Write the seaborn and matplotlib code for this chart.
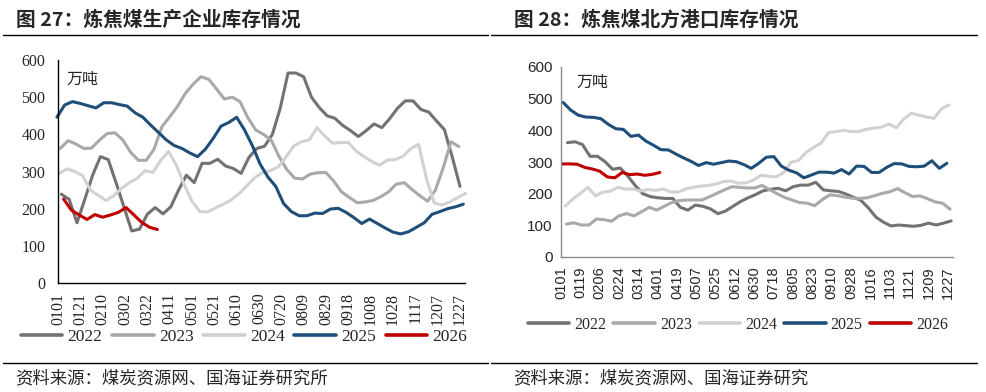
import numpy as np
import pandas as pd
import matplotlib
matplotlib.use("Agg")
import matplotlib.pyplot as plt
import seaborn as sns
from matplotlib.lines import Line2D

# ---------------- data ----------------
years = ["2022", "2023", "2024", "2025", "2026"]
colors = ["#767171", "#A9A9A9", "#D3D1D1", "#1F4E79", "#C00000"]

# Fig 27: coking coal producer inventory (weekly, 万吨)
left_start = ["2022-01-04", "2023-01-03", "2024-01-02", "2024-12-31", "2026-01-06"]
left_2022 = [239, 225, 162, 225, 290, 340, 332, 270, 205, 140, 145, 185, 203, 186, 205, 250,
             290, 270, 322, 322, 333, 315, 308, 295, 338, 362, 368, 400, 470, 565, 565, 555,
             500, 472, 450, 443, 424, 410, 394, 410, 428, 418, 442, 470, 490, 490, 467, 460,
             436, 413, 340, 260]
left_2023 = [362, 383, 374, 362, 363, 384, 402, 404, 385, 352, 330, 330, 360, 420, 447, 475,
             510, 535, 555, 548, 522, 495, 500, 488, 445, 412, 400, 384, 340, 305, 282, 280,
             293, 297, 297, 274, 245, 230, 216, 218, 222, 232, 245, 266, 270, 252, 235, 220,
             250, 310, 380, 367]
left_2024 = [295, 307, 300, 289, 250, 236, 222, 235, 255, 270, 282, 302, 298, 330, 354, 317,
             265, 220, 192, 191, 202, 212, 223, 240, 261, 283, 297, 302, 312, 338, 368, 380,
             385, 418, 395, 376, 378, 378, 355, 340, 327, 317, 331, 332, 341, 362, 373, 280,
             215, 210, 218, 230, 241]
left_2025 = [446, 479, 488, 483, 477, 471, 485, 485, 480, 476, 458, 446, 425, 405, 385, 370,
             362, 350, 340, 360, 389, 422, 432, 446, 412, 370, 320, 285, 260, 214, 192, 181,
             181, 188, 187, 199, 201, 190, 176, 160, 172, 160, 148, 137, 132, 138, 150, 162,
             185, 192, 200, 205, 212]
left_2026 = [226, 196, 183, 171, 184, 177, 183, 190, 203, 183, 163, 150, 144]
left_ticks = ["0101", "0121", "0210", "0302", "0322", "0411", "0501", "0521", "0610", "0630",
              "0720", "0809", "0829", "0918", "1008", "1028", "1117", "1207", "1227"]

# Fig 28: coking coal northern port inventory (weekly, 万吨)
right_start = ["2022-01-07", "2023-01-06", "2024-01-05", "2025-01-03", "2026-01-02"]
right_2022 = [361, 364, 355, 318, 318, 301, 277, 281, 256, 226, 200, 191, 187, 185, 185, 157,
              148, 164, 160, 152, 137, 145, 160, 175, 187, 197, 209, 214, 217, 209, 222, 227,
              227, 236, 212, 209, 207, 199, 189, 179, 155, 126, 110, 98, 101, 99, 97, 100,
              107, 101, 107, 114]
right_2023 = [104, 108, 101, 101, 120, 118, 113, 130, 137, 130, 143, 157, 148, 160, 172, 178,
              180, 180, 180, 190, 201, 212, 222, 220, 218, 218, 226, 213, 200, 188, 180, 172,
              170, 162, 181, 196, 194, 189, 186, 185, 187, 194, 201, 206, 216, 203, 191, 193,
              184, 174, 170, 151]
right_2024 = [161, 183, 201, 220, 193, 205, 208, 220, 214, 215, 208, 213, 210, 215, 205, 205,
              215, 220, 224, 226, 230, 238, 240, 233, 234, 243, 258, 255, 253, 266, 299, 305,
              330, 346, 360, 393, 396, 400, 396, 396, 403, 407, 410, 420, 408, 436, 454, 448,
              442, 438, 468, 480]
right_2025 = [488, 464, 448, 442, 441, 437, 419, 405, 403, 381, 385, 366, 353, 339, 338, 325,
              313, 302, 289, 298, 293, 298, 303, 301, 292, 280, 296, 315, 317, 287, 274, 266,
              250, 259, 268, 268, 265, 276, 262, 287, 286, 267, 267, 283, 295, 294, 286, 285,
              287, 304, 280, 296]
right_2026 = [294, 294, 293, 283, 278, 271, 253, 250, 267, 260, 262, 258, 261, 267]
right_ticks = ["0101", "0119", "0206", "0224", "0314", "0401", "0419", "0507", "0525", "0612",
               "0630", "0718", "0805", "0823", "0910", "0928", "1016", "1103", "1121", "1209",
               "1227"]


def build(starts, series):
    rows = []
    for yr, st, vals in zip(years, starts, series):
        dates = pd.date_range(st, periods=len(vals), freq="7D")
        day = (dates - pd.Timestamp(f"{yr}-01-01")).days + 1
        rows.append(pd.DataFrame({"day": day, "value": vals, "year": yr}))
    return pd.concat(rows, ignore_index=True)


df_left = build(left_start, [left_2022, left_2023, left_2024, left_2025, left_2026])
df_right = build(right_start, [right_2022, right_2023, right_2024, right_2025, right_2026])

# ---------------- style ----------------
sns.set_style("white")
plt.rcParams["font.family"] = ["Liberation Serif", "Noto Sans CJK SC"]
plt.rcParams["axes.unicode_minus"] = False

W, H = 986, 392
fig = plt.figure(figsize=(W / 100, H / 100), dpi=100)
palette = dict(zip(years, colors))


def fx(px):
    return px / W


def fy(py):
    return 1 - py / H


CJK = ["Noto Sans CJK SC", "DejaVu Sans"]

# ---------------- left chart ----------------
axL = fig.add_axes([fx(58), fy(283), fx(465 - 58), (283 - 60) / H])
sns.lineplot(data=df_left, x="day", y="value", hue="year", palette=palette,
             hue_order=years, estimator=None, sort=False, lw=2.2, legend=False, ax=axL)
for ln in axL.lines:
    ln.set_clip_on(False)
    ln.set_solid_joinstyle("round")
axL.set_xlim(1, 365.5)
axL.set_ylim(0, 600)
axL.set_yticks(range(0, 601, 100))
tick_days = [pd.Timestamp("2022" + t).dayofyear for t in left_ticks]
axL.set_xticks(tick_days)
axL.set_xticklabels(left_ticks, rotation=90, fontsize=11.5, family="Liberation Serif")
for lb in axL.get_yticklabels():
    lb.set_fontsize(11.5)
    lb.set_family("Liberation Serif")
axL.tick_params(axis="both", direction="in", length=5, width=1, color="black", pad=7)
axL.tick_params(axis="y", pad=9)
for s in ["top", "right"]:
    axL.spines[s].set_visible(False)
for s in ["left", "bottom"]:
    axL.spines[s].set_color("black")
    axL.spines[s].set_linewidth(1)
axL.set_xlabel("")
axL.set_ylabel("")
axL.text(0.02, 0.915, "万吨", transform=axL.transAxes, fontsize=11.5, family=CJK, va="center")

handlesL = [Line2D([], [], color=c, lw=2.6) for c in colors]
fig.legend(handlesL, years, loc="center", bbox_to_anchor=(fx(244), fy(337)), ncol=5,
           frameon=False, prop={"family": "Liberation Serif", "size": 12.5},
           handlelength=2.4, handletextpad=0.3, columnspacing=0.55, borderaxespad=0)

# ---------------- right chart ----------------
axR = fig.add_axes([fx(561), fy(257), fx(953 - 561), (257 - 67) / H])
sns.lineplot(data=df_right, x="day", y="value", hue="year", palette=palette,
             hue_order=years, estimator=None, sort=False, lw=2.2, legend=False, ax=axR)
for ln in axR.lines:
    ln.set_solid_joinstyle("round")
axR.set_xlim(1, 365.7)
axR.set_ylim(0, 600)
axR.set_yticks(range(0, 601, 100))
tick_days_r = [pd.Timestamp("2022" + t).dayofyear for t in right_ticks]
axR.set_xticks(tick_days_r)
axR.set_xticklabels(right_ticks, rotation=90, fontsize=10.5, family="Liberation Sans")
for lb in axR.get_yticklabels():
    lb.set_fontsize(11)
    lb.set_family("Liberation Sans")
axR.tick_params(axis="both", direction="out", length=4, width=1, color="#8C8C8C", pad=2)
axR.tick_params(axis="x", pad=3)
for s in ["top", "right"]:
    axR.spines[s].set_visible(False)
for s in ["left", "bottom"]:
    axR.spines[s].set_color("#8C8C8C")
    axR.spines[s].set_linewidth(1)
axR.set_xlabel("")
axR.set_ylabel("")
axR.text(0.04, 0.92, "万吨", transform=axR.transAxes, fontsize=11.5, family=CJK, va="center")

handlesR = [Line2D([], [], color=c, lw=2.6) for c in colors]
fig.legend(handlesR, years, loc="center", bbox_to_anchor=(fx(738), fy(325)), ncol=5,
           frameon=False, prop={"family": "Liberation Serif", "size": 11.5},
           handlelength=2.6, handletextpad=0.3, columnspacing=0.45, borderaxespad=0)

# ---------------- titles, rules, sources ----------------
fig.text(fx(16), fy(20), "图 27：炼焦煤生产企业库存情况", fontsize=14.2, fontweight="bold",
         family=CJK, va="center", ha="left")
fig.text(fx(514), fy(20), "图 28：炼焦煤北方港口库存情况", fontsize=14.2, fontweight="bold",
         family=CJK, va="center", ha="left")
for x0, x1 in [(3, 488), (491, 977)]:
    fig.add_artist(Line2D([fx(x0), fx(x1)], [fy(35), fy(35)], color="black", lw=1))
    fig.add_artist(Line2D([fx(x0), fx(x1)], [fy(363), fy(363)], color="black", lw=1))
fig.text(fx(15), fy(378), "资料来源：煤炭资源网、国海证券研究所", fontsize=12.5, family=CJK,
         va="center", ha="left")
fig.text(fx(513), fy(378), "资料来源：煤炭资源网、国海证券研究", fontsize=12.5, family=CJK,
         va="center", ha="left")

fig.savefig("out.png", dpi=100, facecolor="white")
